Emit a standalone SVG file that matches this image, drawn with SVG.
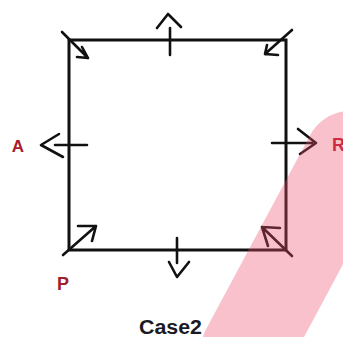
<svg xmlns="http://www.w3.org/2000/svg" width="343" height="337" viewBox="0 0 343 337">
<style>
.sq{fill:none;stroke:#111;stroke-width:3;stroke-linecap:square}
.ar{fill:none;stroke:#111;stroke-width:2.6;stroke-linecap:round;stroke-linejoin:round}
.lbl{font-family:"Liberation Sans",Arial,sans-serif;font-weight:bold}
</style>
<rect width="343" height="337" fill="#fff"/>
<g id="square"><rect class="sq" x="69" y="40" width="217" height="210"/></g>
<g id="connectors">
<path class="ar" d="M170 28 V55 M157 28 L168 14 L181 27"/>
<path class="ar" d="M55 145 H87 M59 134 L41 145 L63 157"/>
<path class="ar" d="M272 143 H312 M298 129 L316 143 L300 154"/>
<path class="ar" d="M177 238 V263 M169 262 L177 277 L189 262"/>
<path class="ar" d="M62 32 L88 58 M82 47 L88 58 L77 57"/>
<path class="ar" d="M292 30 L265 54 M267 45 L265 54 L278 55"/>
<path class="ar" d="M63 255 L96 226 M78 226 L96 226 L92 241"/>
<path class="ar" d="M292 256 L262 227 M280 228 L262 227 L268 246"/>
</g>
<g id="labels">
<text class="lbl" x="18" y="152" font-size="17" fill="#a81c2e" text-anchor="middle">A</text>
<text class="lbl" x="332" y="151" font-size="18" fill="#c0182c">R</text>
<text class="lbl" x="63" y="290" font-size="18" fill="#a3202a" text-anchor="middle">P</text>
<text class="lbl" x="139" y="334" font-size="20" fill="#1a1a24" textLength="63" lengthAdjust="spacingAndGlyphs">Case2</text>
</g>
<line x1="246" y1="350" x2="350" y2="156" stroke="#eb4e6a" stroke-opacity="0.35" stroke-width="90" stroke-linecap="round"/>
</svg>
